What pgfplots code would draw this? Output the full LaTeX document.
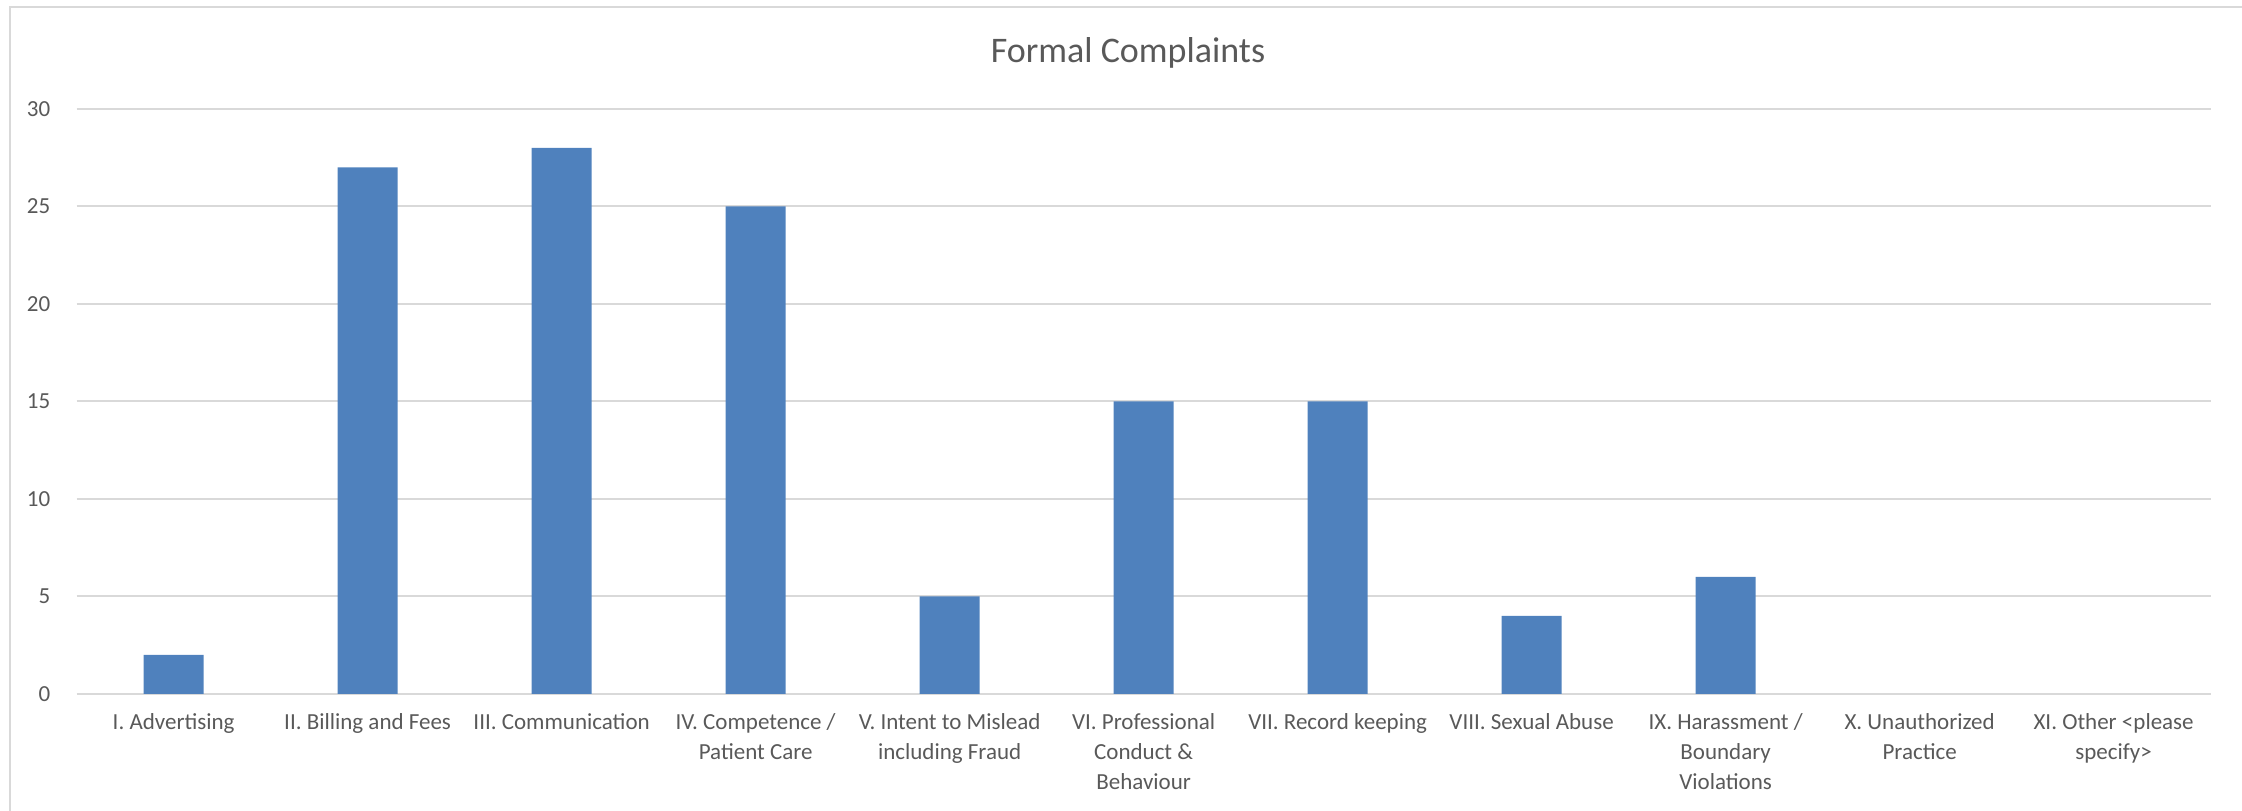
\documentclass[border=0pt]{standalone}
\usepackage{fontspec}
\setmainfont{Carlito}
\usepackage{pgfplots}
\pgfplotsset{compat=1.18}
\definecolor{barblue}{HTML}{4F81BD}
\definecolor{txtgrey}{HTML}{595959}
\definecolor{gridgrey}{HTML}{D9D9D9}
\begin{document}
\begin{tikzpicture}[x=1pt,y=1pt]
\useasboundingbox (0,0) rectangle (1121,405);
% chart frame (left and top edges)
\draw[gridgrey, line width=1pt] (5,-5) -- (5,401.5) -- (1130,401.5);
\node[anchor=base, text=txtgrey, font=\fontsize{18}{22}\selectfont, inner sep=0pt] at (564,373.5) {Formal Complaints};
\begin{axis}[
  at={(39.5,59.5)}, anchor=south west,
  scale only axis, width=1067pt, height=292.5pt,
  xmin=-0.5, xmax=10.5, ymin=0, ymax=30,
  ytick={0,5,...,30}, xtick={0,...,10},
  xticklabels={
    {I. Advertising},
    {II. Billing and Fees},
    {III. Communication},
    {IV. Competence /\\Patient Care},
    {V. Intent to Mislead\\including Fraud},
    {VI. Professional\\Conduct \&\\Behaviour},
    {VII. Record keeping},
    {VIII. Sexual Abuse},
    {IX. Harassment /\\Boundary\\Violations},
    {X. Unauthorized\\Practice},
    {XI. Other <please\\specify>}},
  axis line style={draw=none},
  major tick length=0pt,
  ymajorgrids,
  grid style={gridgrey, line width=1pt},
  /pgf/number format/assume math mode=true,
  ticklabel style={text=txtgrey, font=\fontsize{11.5}{15}\selectfont, inner sep=0pt},
  yticklabel style={anchor=east, xshift=-13pt},
  xticklabel style={anchor=north, yshift=-9.5pt, align=center},
  ybar, bar width=30pt,
  % empty categories get no bar at all
  restrict y to domain=0.5:100, unbounded coords=discard,
]
\addplot[fill=barblue, draw=none] coordinates {
  (0,2) (1,27) (2,28) (3,25) (4,5) (5,15) (6,15) (7,4) (8,6) (9,0) (10,0)};
\end{axis}
\end{tikzpicture}
\end{document}
